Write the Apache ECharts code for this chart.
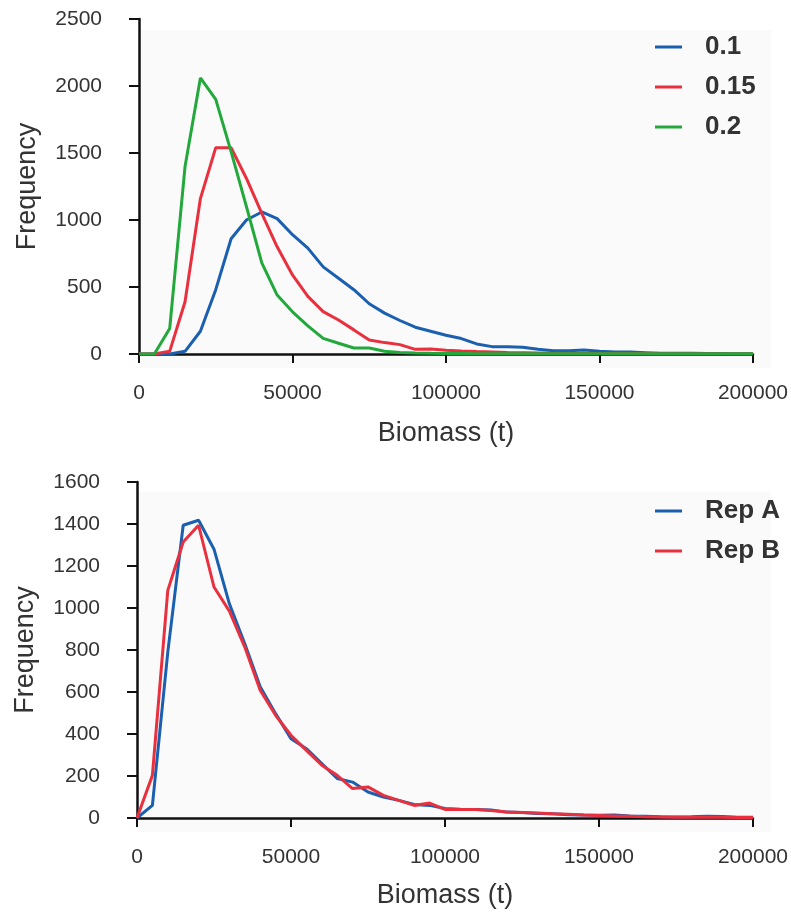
<!DOCTYPE html>
<html>
<head>
<meta charset="utf-8">
<script src="https://cdn.jsdelivr.net/npm/echarts@6/dist/echarts.min.js"></script>
<style>
  html, body { margin: 0; padding: 0; background: #ffffff; }
  #chart { width: 791px; height: 917px; }
</style>
</head>
<body>
<div id="chart"></div>
<script>
// Biomass bins (t), shared by both panels
const biomass = [
  0, 5000, 10000, 15000, 20000, 25000, 30000, 35000, 40000, 45000,
  50000, 55000, 60000, 65000, 70000, 75000, 80000, 85000, 90000, 95000,
  100000, 105000, 110000, 115000, 120000, 125000, 130000, 135000, 140000, 145000,
  150000, 155000, 160000, 165000, 170000, 175000, 180000, 185000, 190000, 195000,
  200000
];

// Upper panel: frequency by harvest rate
const freq01 = [
  0, 0, 0, 20, 170, 480, 860, 1000, 1060, 1010,
  890, 790, 650, 565, 480, 375, 305, 250, 200, 170,
  140, 115, 75, 55, 55, 50, 35, 25, 25, 30,
  20, 15, 15, 10, 5, 5, 5, 3, 3, 2,
  2
];
const freq015 = [
  0, 0, 20, 390, 1160, 1540, 1540, 1310, 1050, 800,
  590, 430, 316, 254, 180, 105, 85, 70, 35, 37,
  28, 22, 18, 15, 12, 10, 8, 6, 5, 5,
  4, 4, 3, 3, 2, 2, 2, 2, 2, 2,
  2
];
const freq02 = [
  0, 0, 190, 1400, 2060, 1900, 1510, 1100, 680, 440,
  315, 210, 117, 80, 45, 45, 20, 12, 8, 5,
  4, 3, 2, 2, 2, 1, 1, 1, 1, 1,
  1, 1, 1, 1, 1, 1, 1, 1, 1, 1,
  1
];

// Lower panel: two replicate runs
const repA = [
  0, 60, 790, 1394, 1418, 1280, 1020, 830, 625, 497,
  378, 330, 259, 188, 171, 124, 100, 84, 64, 60,
  45, 42, 40, 38, 28, 26, 22, 20, 16, 14,
  13, 14, 10, 8, 6, 5, 6, 8, 7, 4,
  3
];
const repB = [
  0, 203, 1084, 1314, 1394, 1100, 985, 814, 608, 489,
  394, 322, 251, 203, 140, 148, 108, 84, 60, 71,
  41, 40, 40, 36, 29, 26, 24, 20, 18, 14,
  12, 10, 8, 6, 5, 4, 4, 3, 3, 2,
  2
];

const topTicks = [0, 500, 1000, 1500, 2000, 2500];
const bottomTicks = [0, 200, 400, 600, 800, 1000, 1200, 1400, 1600];

const BLUE = '#1b5fb0';
const RED = '#e8303f';
const GREEN = '#22a83b';
const FONT = '"Liberation Sans", Arial, Helvetica, sans-serif';

const pairs = (ys) => biomass.map((x, i) => [x, ys[i]]);
const plain = (v) => String(v);

function xAxisFor(gridIndex, gap) {
  return {
    type: 'value', gridIndex: gridIndex,
    min: 0, max: 200000, interval: 50000,
    name: 'Biomass (t)', nameLocation: 'middle', nameGap: gap,
    nameTextStyle: { fontFamily: FONT, fontSize: 27, color: '#333' },
    axisLine: { show: true, onZero: false, lineStyle: { color: '#111', width: 2.5 } },
    axisTick: { show: true, inside: false, length: 9, lineStyle: { color: '#111', width: 2 } },
    axisLabel: { margin: 29, fontFamily: FONT, fontSize: 21, color: '#333', formatter: plain },
    splitLine: { show: false }
  };
}

function yAxisFor(gridIndex, ticks) {
  return {
    type: 'value', gridIndex: gridIndex,
    min: ticks[0], max: ticks[ticks.length - 1], interval: ticks[1] - ticks[0],
    name: 'Frequency', nameLocation: 'middle', nameGap: 98, nameRotate: 90,
    nameTextStyle: { fontFamily: FONT, fontSize: 27, color: '#333' },
    axisLine: { show: true, lineStyle: { color: '#111', width: 2.5 } },
    axisTick: { show: true, inside: false, length: 10, lineStyle: { color: '#111', width: 2 } },
    axisLabel: { margin: 37, fontFamily: FONT, fontSize: 21, color: '#333', formatter: plain },
    splitLine: { show: false }
  };
}

function lineSeries(name, ys, color, axisIndex) {
  return {
    name: name, type: 'line',
    xAxisIndex: axisIndex, yAxisIndex: axisIndex,
    data: pairs(ys),
    showSymbol: false, symbol: 'none',
    lineStyle: { color: color, width: 3 },
    itemStyle: { color: color },
    animation: false
  };
}

function legendFor(names, top) {
  return {
    data: names,
    orient: 'vertical',
    left: 650, top: top,
    icon: 'rect', itemWidth: 27, itemHeight: 3, itemGap: 14,
    textStyle: { fontFamily: FONT, fontSize: 26, fontWeight: 'bold', color: '#333', padding: [0, 0, 0, 18] },
    selectedMode: false
  };
}

const chart = echarts.init(document.getElementById('chart'), null, { renderer: 'canvas' });
chart.setOption({
  backgroundColor: '#ffffff',
  animation: false,
  graphic: [
    { type: 'rect', z: -10, shape: { x: 139, y: 30, width: 632, height: 338 }, style: { fill: '#fafafa' } },
    { type: 'rect', z: -10, shape: { x: 137, y: 492, width: 634, height: 340 }, style: { fill: '#fafafa' } }
  ],
  grid: [
    { left: 139, right: 34, top: 19, bottom: 563 },
    { left: 137, right: 38, top: 482, bottom: 99 }
  ],
  xAxis: [xAxisFor(0, 66), xAxisFor(1, 64)],
  yAxis: [yAxisFor(0, topTicks), yAxisFor(1, bottomTicks)],
  legend: [
    legendFor(['0.1', '0.15', '0.2'], 29),
    legendFor(['Rep A', 'Rep B'], 493)
  ],
  series: [
    lineSeries('0.1', freq01, BLUE, 0),
    lineSeries('0.15', freq015, RED, 0),
    lineSeries('0.2', freq02, GREEN, 0),
    lineSeries('Rep A', repA, BLUE, 1),
    lineSeries('Rep B', repB, RED, 1)
  ]
});
</script>
</body>
</html>
